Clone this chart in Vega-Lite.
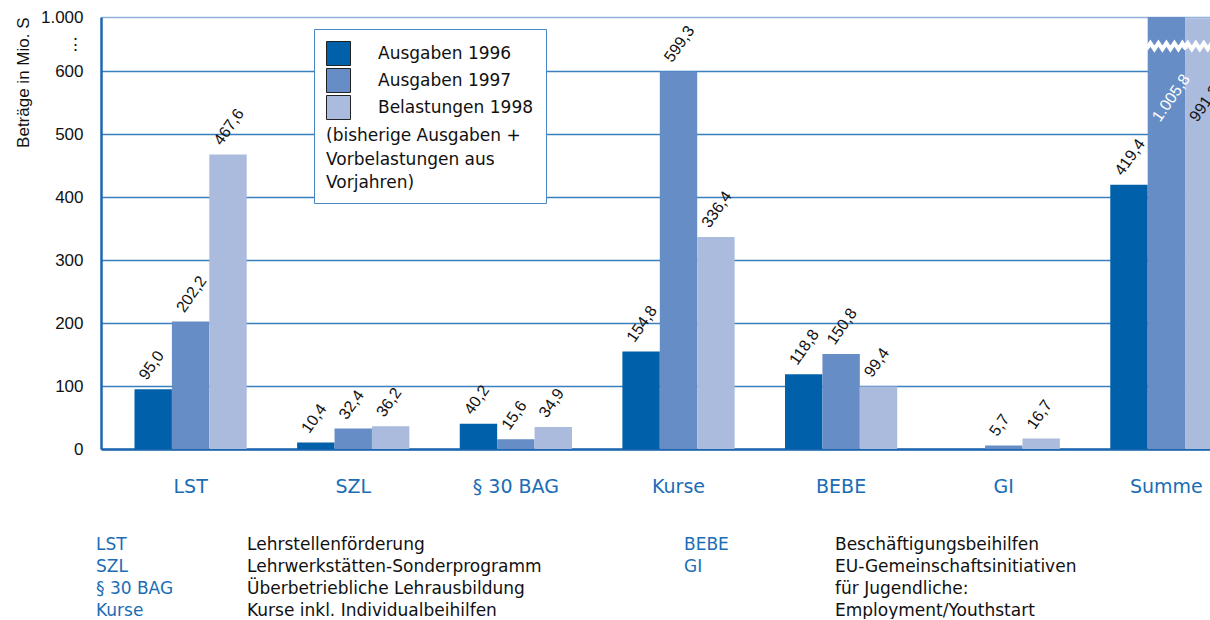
{
  "$schema": "https://vega.github.io/schema/vega-lite/v6.json",
  "autosize": {"type": "pad"},
  "padding": {"left": 14, "top": 8, "right": 0, "bottom": 0},
  "background": "white",
  "bounds": "flush",
  "spacing": 101,
  "config": {
    "locale": {"number": {"decimal": ",", "thousands": ".", "grouping": [3], "currency": ["", ""]}},
    "view": {"stroke": null},
    "font": "Liberation Sans"
  },
  "vconcat": [
    {
      "width": 1110,
      "height": 432,
      "data": {"values": [
        {"kategorie": "LST", "reihe": "Ausgaben 1996", "wert": 95.0},
        {"kategorie": "LST", "reihe": "Ausgaben 1997", "wert": 202.2},
        {"kategorie": "LST", "reihe": "Belastungen 1998", "wert": 467.6},
        {"kategorie": "SZL", "reihe": "Ausgaben 1996", "wert": 10.4},
        {"kategorie": "SZL", "reihe": "Ausgaben 1997", "wert": 32.4},
        {"kategorie": "SZL", "reihe": "Belastungen 1998", "wert": 36.2},
        {"kategorie": "§ 30 BAG", "reihe": "Ausgaben 1996", "wert": 40.2},
        {"kategorie": "§ 30 BAG", "reihe": "Ausgaben 1997", "wert": 15.6},
        {"kategorie": "§ 30 BAG", "reihe": "Belastungen 1998", "wert": 34.9},
        {"kategorie": "Kurse", "reihe": "Ausgaben 1996", "wert": 154.8},
        {"kategorie": "Kurse", "reihe": "Ausgaben 1997", "wert": 599.3},
        {"kategorie": "Kurse", "reihe": "Belastungen 1998", "wert": 336.4},
        {"kategorie": "BEBE", "reihe": "Ausgaben 1996", "wert": 118.8},
        {"kategorie": "BEBE", "reihe": "Ausgaben 1997", "wert": 150.8},
        {"kategorie": "BEBE", "reihe": "Belastungen 1998", "wert": 99.4},
        {"kategorie": "GI", "reihe": "Ausgaben 1997", "wert": 5.7},
        {"kategorie": "GI", "reihe": "Belastungen 1998", "wert": 16.7},
        {"kategorie": "Summe", "reihe": "Ausgaben 1996", "wert": 419.4},
        {"kategorie": "Summe", "reihe": "Ausgaben 1997", "wert": 1005.8},
        {"kategorie": "Summe", "reihe": "Belastungen 1998", "wert": 991.2}
      ]},
      "encoding": {
        "x": {
          "field": "kategorie", "type": "nominal", "sort": null,
          "scale": {"domain": ["LST", "SZL", "§ 30 BAG", "Kurse", "BEBE", "GI", "Summe"], "range": [0, 1155], "paddingInner": 0.31, "paddingOuter": 0.206},
          "axis": {"title": null, "labelAngle": 0, "labelFont": "DejaVu Sans", "labelFontSize": 19, "labelColor": "#1a6db5", "labelPadding": 28, "ticks": false, "grid": false, "domainColor": "#1d66b0", "domainWidth": 2.5}
        },
        "xOffset": {"field": "reihe", "type": "nominal", "scale": {"domain": ["Ausgaben 1996", "Ausgaben 1997", "Belastungen 1998"], "paddingInner": 0, "paddingOuter": 0}},
        "y": {
          "field": "wert", "type": "quantitative",
          "scale": {"domain": [0, 600, 1000], "range": [432, 54, 0], "nice": false, "zero": false},
          "axis": {
            "title": "Beträge in Mio. S", "titleAnchor": "end", "titleFontSize": 17, "titleFontWeight": "normal", "titleColor": "#111", "titlePadding": 8,
            "values": [0, 100, 200, 300, 400, 500, 600, 800, 1000],
            "labelExpr": "datum.value == 800 ? '⋮\u00a0\u00a0\u00a0\u00a0\u00a0' : datum.value == 1000 ? '1.000' : datum.label",
            "labelFontSize": 17, "labelColor": "#111", "labelPadding": 18, "ticks": false,
            "domainColor": "#1d66b0", "domainWidth": 2.5,
            "gridColor": {"condition": {"test": "datum.value == 1000", "value": "#8fb3dc"}, "value": "#3a7fc0"},
            "gridOpacity": {"condition": {"test": "datum.value == 800", "value": 0}, "value": 1},
            "gridWidth": 1.5
          }
        }
      },
      "layer": [
        {
          "mark": {"type": "bar", "clip": true},
          "encoding": {
            "color": {
              "field": "reihe", "type": "nominal",
              "scale": {"domain": ["Ausgaben 1996", "Ausgaben 1997", "Belastungen 1998"], "range": ["#0060a9", "#678dc6", "#abbbdd"]},
              "legend": {
                "title": ["\u00a0\u00a0\u00a0\u00a0\u00a0\u00a0\u00a0\u00a0\u00a0(bisherige Ausgaben +", "\u00a0\u00a0\u00a0\u00a0\u00a0\u00a0\u00a0\u00a0\u00a0Vorbelastungen aus", "\u00a0\u00a0\u00a0\u00a0\u00a0\u00a0\u00a0\u00a0\u00a0Vorjahren)"],
                "orient": "none", "legendX": 213, "legendY": 12,
                "titleOrient": "bottom", "titleAnchor": "start", "titleFont": "DejaVu Sans", "titleFontSize": 17, "titleFontWeight": "normal", "titleColor": "#111", "titleLineHeight": 23.5, "titlePadding": 6, "titleLimit": 500,
                "labelFont": "DejaVu Sans", "labelFontSize": 17, "labelColor": "#111", "labelOffset": 27, "labelLimit": 400,
                "symbolType": "square", "symbolSize": 576, "symbolStrokeColor": "#222", "symbolStrokeWidth": 1, "symbolOpacity": 1,
                "rowPadding": -6, "padding": 12, "fillColor": "white", "strokeColor": "#4a86c5"
              }
            }
          }
        },
        {
          "transform": [{"filter": "datum.wert < 900"}],
          "mark": {"type": "text", "angle": -55, "align": "left", "baseline": "alphabetic", "dx": 3, "dy": -10, "fontSize": 16, "font": "Liberation Sans", "color": "#111", "clip": true},
          "encoding": {"text": {"field": "wert", "type": "quantitative", "format": ",.1f"}}
        },
        {
          "transform": [{"filter": "datum.wert >= 900"}],
          "mark": {"type": "text", "angle": -55, "align": "left", "baseline": "alphabetic", "dx": 3, "dy": -10, "fontSize": 16, "font": "Liberation Sans", "clip": true},
          "encoding": {
            "y": {"datum": 505, "type": "quantitative"},
            "text": {"field": "wert", "type": "quantitative", "format": ",.1f"},
            "color": {"condition": {"test": "datum.reihe === 'Ausgaben 1997'", "value": "white"}, "value": "#111"}
          }
        },
        {
          "transform": [{"filter": "datum.kategorie === 'Summe' && datum.reihe !== 'Ausgaben 1996'"}],
          "mark": {"type": "point", "shape": "M-1,0.15L-0.8,-0.15L-0.6,0.15L-0.4,-0.15L-0.2,0.15L0,-0.15L0.2,0.15L0.4,-0.15L0.6,0.15L0.8,-0.15L1,0.15", "size": 1600, "filled": false, "stroke": "white", "strokeWidth": 4, "opacity": 1, "clip": true},
          "encoding": {"y": {"datum": 785, "type": "quantitative"}}
        }
      ]
    },
    {
      "width": 588,
      "height": 66,
      "data": {"values": [
        {"kuerzel": "LST", "bezeichnung": "Lehrstellenförderung", "spalte": "links", "zeile": 1},
        {"kuerzel": "SZL", "bezeichnung": "Lehrwerkstätten-Sonderprogramm", "spalte": "links", "zeile": 2},
        {"kuerzel": "§ 30 BAG", "bezeichnung": "Überbetriebliche Lehrausbildung", "spalte": "links", "zeile": 3},
        {"kuerzel": "Kurse", "bezeichnung": "Kurse inkl. Individualbeihilfen", "spalte": "links", "zeile": 4},
        {"kuerzel": "BEBE", "bezeichnung": "Beschäftigungsbeihilfen", "spalte": "rechts", "zeile": 1},
        {"kuerzel": "GI", "bezeichnung": ["EU-Gemeinschaftsinitiativen", "für Jugendliche:", "Employment/Youthstart"], "spalte": "rechts", "zeile": 2}
      ]},
      "encoding": {
        "x": {"field": "spalte", "type": "nominal", "scale": {"type": "point", "padding": 0, "domain": ["links", "rechts"]}, "axis": null},
        "y": {"field": "zeile", "type": "ordinal", "scale": {"type": "point", "padding": 0, "domain": [1, 2, 3, 4]}, "axis": null}
      },
      "layer": [
        {
          "mark": {"type": "text", "align": "left", "baseline": "alphabetic", "dx": -5, "font": "DejaVu Sans", "fontSize": 17, "color": "#1a6db5"},
          "encoding": {"text": {"field": "kuerzel", "type": "nominal"}}
        },
        {
          "mark": {"type": "text", "align": "left", "baseline": "alphabetic", "dx": 146, "font": "DejaVu Sans", "fontSize": 17, "color": "#111", "lineHeight": 22},
          "encoding": {"text": {"field": "bezeichnung", "type": "nominal"}}
        }
      ]
    }
  ]
}
